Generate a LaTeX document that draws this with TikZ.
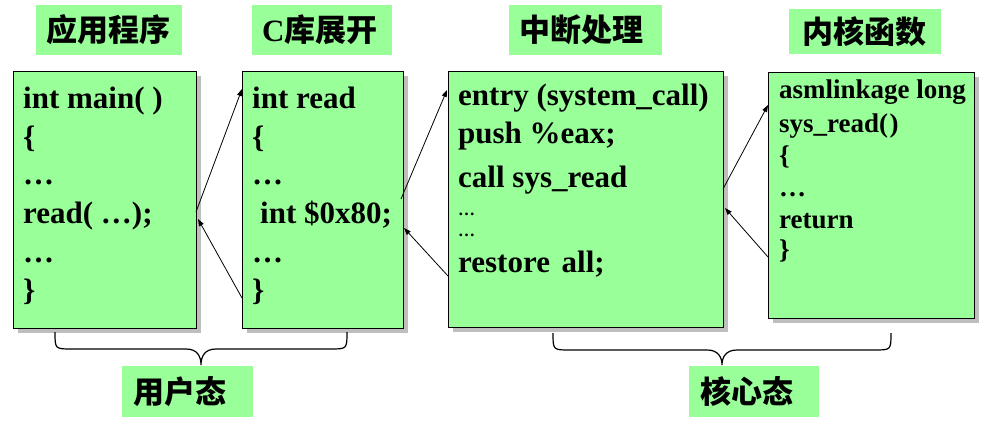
\documentclass[tikz,border=0pt]{standalone}
\usepackage{fontspec}
\setmainfont{Liberation Serif}
\newfontfamily\cjk{Noto Sans CJK SC}
\usetikzlibrary{arrows.meta,shadows}
\definecolor{lg}{RGB}{153,255,153}
\definecolor{sh}{RGB}{190,190,190}
\begin{document}
\begin{tikzpicture}[x=1pt,y=-1pt,
  titlebox/.style={fill=lg, anchor=west, inner ysep=0pt, align=left,
     font=\fontsize{31}{31}\selectfont\bfseries\cjk},
  codebox/.style={draw=black, line width=1.2pt, fill=lg, inner sep=0pt, anchor=north west,
     drop shadow={shadow xshift=4pt, shadow yshift=-4pt, fill=sh, opacity=1}},
  code/.style={anchor=base west, inner sep=0pt, font=\fontsize{31}{31}\selectfont\bfseries},
  codesm/.style={anchor=base west, inner sep=0pt, font=\fontsize{27}{27}\selectfont\bfseries},
  dots/.style={anchor=base west, inner sep=0pt, font=\fontsize{17}{17}\selectfont\bfseries},
  conn/.style={line width=0.8pt, -{Triangle[length=7pt,width=5pt]}},
  brace/.style={line width=1.2pt}
]
\useasboundingbox (0,0) rectangle (983,428);

% title boxes
\node[titlebox, minimum height=50pt, text width=126pt, inner xsep=10pt] (t1) at (36,30) {应用程序};
\node[titlebox, minimum height=50pt, text width=120pt, inner xsep=10pt] (t2) at (252,30) {{\rmfamily C}库展开};
\node[titlebox, minimum height=50pt, text width=133pt, inner xsep=10pt] (t3) at (509,30) {中断处理};
\node[titlebox, minimum height=45pt, text width=126pt, inner xsep=13pt] (t4) at (789,31.5) {内核函数};

% code boxes
\node[codebox, minimum width=183pt, minimum height=257pt] (b1) at (13,71) {};
\node[codebox, minimum width=161pt, minimum height=257pt] (b2) at (242,71) {};
\node[codebox, minimum width=275pt, minimum height=256pt] (b3) at (448,71) {};
\node[codebox, minimum width=206pt, minimum height=246pt] (b4) at (768,72) {};

% box 1 text
\node[code] (b1a) at (23,108) {int main( )};
\node[code] (b1b) at (23,147) {\{};
\node[code] (b1c) at (23,184) {…};
\node[code] (b1d) at (23,223) {read( …);};
\node[code] (b1e) at (23,262) {…};
\node[code] (b1f) at (23,300) {\}};

% box 2 text
\node[code] (b2a) at (252,108) {int read};
\node[code] (b2b) at (252,147) {\{};
\node[code] (b2c) at (252,184) {…};
\node[code] (b2d) at (260,223) {int \$0x80;};
\node[code] (b2e) at (252,262) {…};
\node[code] (b2f) at (252,300) {\}};

% box 3 text
\node[code] (b3a) at (458,106) {entry (system\_call)};
\node[code] (b3b) at (458,143) {push \%eax;};
\node[code] (b3c) at (458,187) {call sys\_read};
\node[dots] (b3d) at (458,215) {…};
\node[dots] (b3e) at (458,236) {…};
\node[code] (b3f) at (458,272) {restore\hspace{4pt} all;};

% box 4 text
\node[codesm] (b4a) at (779,99) {asmlinkage long};
\node[codesm] (b4b) at (779,132) {sys\_read(\kern1.5pt)};
\node[codesm] (b4c) at (779,164) {\{};
\node[codesm] (b4d) at (779,196) {…};
\node[codesm] (b4e) at (779,228) {return};
\node[codesm] (b4f) at (779,258) {\}};

% connector end points on the box borders
\coordinate (p1s) at (196,212);
\coordinate (p1e) at (242,89);
\coordinate (p2s) at (242,298);
\coordinate (p2e) at (198,219);
\coordinate (p3s) at (401,199);
\coordinate (p3e) at (447,90);
\coordinate (p4s) at (448,276);
\coordinate (p4e) at (404,228);
\coordinate (p5s) at (723,189);
\coordinate (p5e) at (768,105);
\coordinate (p6s) at (768,257);
\coordinate (p6e) at (725,208);
\draw[conn] (p1s) -- (p1e);
\draw[conn] (p2s) -- (p2e);
\draw[conn] (p3s) -- (p3e);
\draw[conn] (p4s) -- (p4e);
\draw[conn] (p5s) -- (p5e);
\draw[conn] (p6s) -- (p6e);

% braces
\draw[brace] (55,332) .. controls (55,349) .. (72,349) -- (186,349)
  .. controls (197,349) and (201,356) .. (201,365)
  .. controls (201,356) and (205,349) .. (216,349) -- (330,349)
  .. controls (347,349) .. (347,332);
\draw[brace] (553,333) .. controls (553,350) .. (570,350) -- (707,350)
  .. controls (718,350) and (722,357) .. (722,365)
  .. controls (722,357) and (726,350) .. (737,350) -- (874,350)
  .. controls (891,350) .. (891,333);

% bottom labels
\node[titlebox, minimum height=51pt, text width=109pt, inner xsep=11pt] (l1) at (122,391.5) {用户态};
\node[titlebox, minimum height=51pt, text width=108pt, inner xsep=11pt] (l2) at (689,391.5) {核心态};
\end{tikzpicture}
\end{document}
